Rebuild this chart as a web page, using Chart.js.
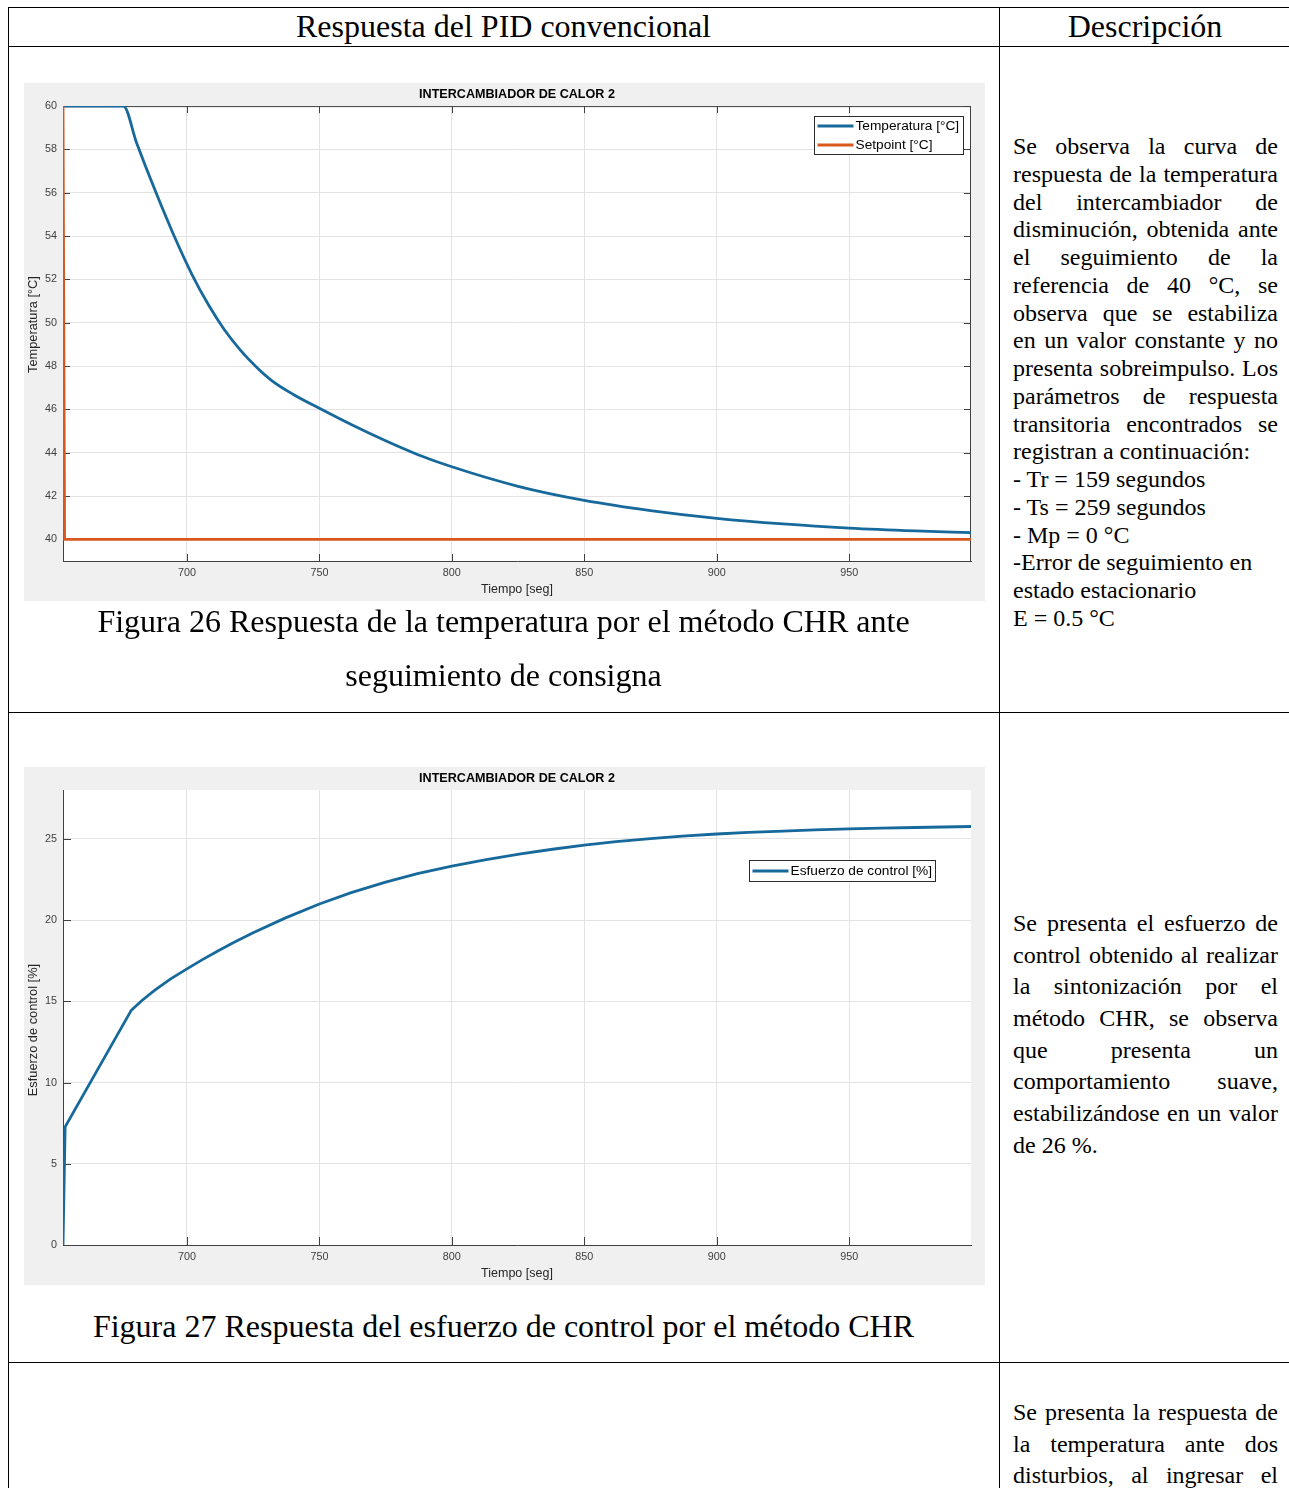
<!DOCTYPE html>
<html lang="es">
<head>
<meta charset="utf-8">
<title>Respuesta del PID convencional</title>
<script src="https://cdn.jsdelivr.net/npm/chart.js@4.4.1/dist/chart.umd.min.js"></script>
<style>
  body { margin: 0; background: #fff; }
  #page { position: relative; width: 1289px; height: 1488px; overflow: hidden;
          font-family: 'Liberation Serif', 'Times New Roman', serif; color: #000; }
  .hl { position: absolute; height: 1px; background: #000; }
  .vl { position: absolute; width: 1px; background: #000; }
  .fig { position: absolute; left: 24px; width: 961px; height: 518px; background: #f0f0f0; }
  .fig canvas { display: block; }
  .head { position: absolute; top: 7px; height: 39px; line-height: 39px; font-size: 32px;
          text-align: center; white-space: nowrap; }
  .cap { position: absolute; left: 8px; width: 991px; height: 54px; line-height: 54px;
         font-size: 32px; text-align: center; white-space: nowrap; }
  .desc { position: absolute; left: 1013px; width: 265px; font-size: 24px; }
  .desc div { text-align: justify; text-align-last: justify; }
  .desc div.l { text-align-last: left; }
</style>
</head>
<body>
<div id="page">
  <!-- tabla -->
  <div class="hl" style="left:8px; top:7px; width:1290px;"></div>
  <div class="hl" style="left:8px; top:46px; width:1290px;"></div>
  <div class="hl" style="left:8px; top:712px; width:1290px;"></div>
  <div class="hl" style="left:8px; top:1362px; width:1290px;"></div>
  <div class="vl" style="left:8px; top:7px; height:1490px;"></div>
  <div class="vl" style="left:999px; top:7px; height:1490px;"></div>

  <div class="head" style="left:8px; width:991px;">Respuesta del PID convencional</div>
  <div class="head" style="left:999px; width:292px;">Descripción</div>

  <div class="fig" style="top:83px;"><canvas id="temp" width="961" height="518"></canvas></div>
  <div class="cap" style="top:594px;">Figura 26 Respuesta de la temperatura por el método CHR ante</div>
  <div class="cap" style="top:648px;">seguimiento de consigna</div>

  <div class="fig" style="top:767px;"><canvas id="esfuerzo" width="961" height="518"></canvas></div>
  <div class="cap" style="top:1299px;">Figura 27 Respuesta del esfuerzo de control por el método CHR</div>

  <div class="desc" style="top:133px; line-height:27.75px;">
    <div>Se observa la curva de</div>
    <div>respuesta de la temperatura</div>
    <div>del intercambiador de</div>
    <div>disminución, obtenida ante</div>
    <div>el seguimiento de la</div>
    <div>referencia de 40 °C, se</div>
    <div>observa que se estabiliza</div>
    <div>en un valor constante y no</div>
    <div>presenta sobreimpulso. Los</div>
    <div>parámetros de respuesta</div>
    <div>transitoria encontrados se</div>
    <div class="l">registran a continuación:</div>
    <div class="l">- Tr = 159 segundos</div>
    <div class="l">- Ts = 259 segundos</div>
    <div class="l">- Mp = 0 °C</div>
    <div class="l">-Error de seguimiento en</div>
    <div class="l">estado estacionario</div>
    <div class="l">E = 0.5 °C</div>
  </div>

  <div class="desc" style="top:908px; line-height:31.66px;">
    <div>Se presenta el esfuerzo de</div>
    <div>control obtenido al realizar</div>
    <div>la sintonización por el</div>
    <div>método CHR, se observa</div>
    <div>que presenta un</div>
    <div>comportamiento suave,</div>
    <div>estabilizándose en un valor</div>
    <div class="l">de 26 %.</div>
  </div>

  <div class="desc" style="top:1397px; line-height:31.66px;">
    <div>Se presenta la respuesta de</div>
    <div>la temperatura ante dos</div>
    <div>disturbios, al ingresar el</div>
  </div>
</div>

<script>
const tiempoTemp = [653.2, 676, 681, 688, 695, 702, 708, 714, 720, 726, 732, 740, 750, 762, 775, 787, 800, 825, 850, 875, 900, 925, 950, 975, 996];
const temperatura = [60, 60, 58.3, 56.1, 54.05, 52.2, 50.85, 49.7, 48.76, 47.98, 47.33, 46.7, 46.05, 45.3, 44.55, 43.92, 43.35, 42.45, 41.8, 41.33, 40.97, 40.71, 40.52, 40.39, 40.31];
const tiempoSet = [653.2, 653.8, 996];
const setpoint = [60, 40, 40];

const tiempoU = [653.2, 654, 678.9, 683, 688, 694, 700, 706, 712, 718, 725, 737, 750, 762, 775, 787, 800, 813, 826, 838, 850, 862, 875, 887, 900, 912, 925, 937, 950, 962, 975, 996];
const esfuerzo = [0, 7.27, 14.43, 15.05, 15.7, 16.4, 17.0, 17.58, 18.13, 18.65, 19.22, 20.12, 20.99, 21.69, 22.34, 22.86, 23.32, 23.72, 24.07, 24.36, 24.62, 24.83, 25.02, 25.17, 25.3, 25.4, 25.48, 25.55, 25.61, 25.66, 25.7, 25.76];

// ticks
const xTicks = [700, 750, 800, 850, 900, 950];
const tempTicks = [40, 42, 44, 46, 48, 50, 52, 54, 56, 58, 60];
const esfTicks = [0, 5, 10, 15, 20, 25];

const AZUL = '#17699c';
const NARANJA = '#d9581f';
const EJE = '#404040';

Chart.defaults.font.family = "'Liberation Sans', Arial, sans-serif";
Chart.defaults.animation = false;

function puntos(xs, ys){
  return xs.map((x, i) => ({x: x, y: ys[i]}));
}

// fondo blanco del area, ticks hacia dentro, caja, etiqueta y y leyenda dentro del grafico
const matlabAxes = {
  id: 'matlabAxes',
  beforeDraw(chart){
    const a = chart.chartArea, ctx = chart.ctx;
    ctx.save();
    ctx.fillStyle = '#fff';
    ctx.fillRect(a.left, a.top, a.right - a.left, a.bottom - a.top);
    ctx.restore();
  },
  beforeDatasetsDraw(chart, args, opts){
    const a = chart.chartArea, ctx = chart.ctx;
    const xs = chart.scales.x, ys = chart.scales.y;
    const L = opts.tick;
    ctx.save();
    ctx.strokeStyle = EJE;
    ctx.lineWidth = 1;
    ctx.beginPath();
    xs.ticks.forEach(t => {
      const px = Math.round(xs.getPixelForValue(t.value)) + 0.5;
      ctx.moveTo(px, a.bottom); ctx.lineTo(px, a.bottom - L);
      if (opts.box) { ctx.moveTo(px, a.top); ctx.lineTo(px, a.top + L); }
    });
    ys.ticks.forEach(t => {
      const py = Math.round(ys.getPixelForValue(t.value)) + 0.5;
      ctx.moveTo(a.left, py); ctx.lineTo(a.left + L, py);
      if (opts.box) { ctx.moveTo(a.right, py); ctx.lineTo(a.right - L, py); }
    });
    if (opts.box) {
      ctx.moveTo(a.left, a.top + 0.5); ctx.lineTo(a.right, a.top + 0.5);
      ctx.moveTo(a.right - 0.5, a.top); ctx.lineTo(a.right - 0.5, a.bottom);
    }
    ctx.stroke();

    // etiqueta del eje y (matlab no la deja centrada exacto)
    const yl = opts.yLabel;
    ctx.translate(9, (a.top + a.bottom) / 2 + yl.dy);
    ctx.rotate(-Math.PI / 2);
    ctx.font = "12.8px 'Liberation Sans', Arial, sans-serif";
    ctx.fillStyle = '#262626';
    ctx.textAlign = 'center';
    ctx.textBaseline = 'middle';
    ctx.fillText(yl.text, 0, 0);
    ctx.restore();
  },
  afterDatasetsDraw(chart, args, opts){
    const lg = opts.legend;
    if (!lg) return;
    const a = chart.chartArea, ctx = chart.ctx;
    const x = Math.round(a.right - lg.right - lg.width) + 0.5;
    const y = Math.round(a.top + lg.top) + 0.5;
    const sets = chart.data.datasets;
    const rowH = lg.height / sets.length;
    ctx.save();
    ctx.fillStyle = '#fff';
    ctx.fillRect(x, y, lg.width, lg.height);
    ctx.strokeStyle = '#2b2b2b';
    ctx.lineWidth = 1;
    ctx.strokeRect(x, y, lg.width, lg.height);
    ctx.font = "13.7px 'Liberation Sans', Arial, sans-serif";
    ctx.textBaseline = 'middle';
    sets.forEach((ds, i) => {
      const cy = y + rowH * i + rowH / 2;
      ctx.strokeStyle = ds.borderColor;
      ctx.lineWidth = ds.borderWidth;
      ctx.beginPath();
      ctx.moveTo(x + 3, cy); ctx.lineTo(x + 39, cy);
      ctx.stroke();
      ctx.fillStyle = '#000';
      ctx.fillText(ds.label, x + 41, cy + 0.5);
    });
    ctx.restore();
  }
};

function escalas(yMin, yMax, yTicks){
  return {
    x: {
      type: 'linear', min: 653.2, max: 996,
      afterBuildTicks: s => { s.ticks = xTicks.map(v => ({value: v})); },
      afterFit: s => { s.height = 40; },
      grid: {color: '#e3e3e3', drawTicks: false},
      border: {color: EJE, width: 1},
      ticks: {color: EJE, font: {size: 10.8}, padding: 6, maxRotation: 0},
      title: {display: true, text: 'Tiempo [seg]', color: '#262626', font: {size: 12.5}, padding: {top: 0, bottom: 4}}
    },
    y: {
      type: 'linear', min: yMin, max: yMax,
      afterBuildTicks: s => { s.ticks = yTicks.map(v => ({value: v})); },
      afterFit: s => { s.width = 39; },
      grid: {color: '#e3e3e3', drawTicks: false},
      border: {color: EJE, width: 1},
      ticks: {color: EJE, font: {size: 10.8}, padding: 6}
    }
  };
}

function comunes(){
  return {
    responsive: false,
    devicePixelRatio: 1,
    layout: {padding: {left: 0, right: 14, top: 0, bottom: 0}},
    elements: {point: {radius: 0}},
  };
}

function titulo(){
  return {display: true, text: 'INTERCAMBIADOR DE CALOR 2', color: '#000', fullSize: false,
          font: {size: 12.6, weight: 'bold'}, padding: {top: 4, bottom: 4}};
}

function graph_temp(){
  const ctx = document.getElementById('temp');
  new Chart(ctx, {
    type: 'line',
    data: {
      datasets: [
        {label: 'Temperatura [°C]', data: puntos(tiempoTemp, temperatura), borderColor: AZUL, borderWidth: 2.8,
         cubicInterpolationMode: 'monotone', order: 1},
        {label: 'Setpoint [°C]', data: puntos(tiempoSet, setpoint), borderColor: NARANJA, borderWidth: 2.8,
         tension: 0, order: 0}
      ]
    },
    options: Object.assign(comunes(), {
      scales: escalas(39, 60, tempTicks),
      plugins: {
        legend: {display: false},
        tooltip: {enabled: false},
        title: titulo(),
        matlabAxes: {tick: 7, box: true,
                     yLabel: {text: 'Temperatura [°C]', dy: -9},
                     legend: {right: 8, top: 10, width: 149, height: 38}}
      }
    }),
    plugins: [matlabAxes]
  });
}

function graph_esfuerzo(){
  const ctx = document.getElementById('esfuerzo');
  new Chart(ctx, {
    type: 'line',
    data: {
      datasets: [
        {label: 'Esfuerzo de control [%]', data: puntos(tiempoU, esfuerzo), borderColor: AZUL, borderWidth: 2.8,
         tension: 0, borderJoinStyle: 'round'}
      ]
    },
    options: Object.assign(comunes(), {
      scales: escalas(0, 28, esfTicks),
      plugins: {
        legend: {display: false},
        tooltip: {enabled: false},
        title: titulo(),
        matlabAxes: {tick: 8, box: false,
                     yLabel: {text: 'Esfuerzo de control [%]', dy: 12.5},
                     legend: {right: 36, top: 70, width: 186, height: 21}}
      }
    }),
    plugins: [matlabAxes]
  });
}

graph_temp();
graph_esfuerzo();
</script>
</body>
</html>
